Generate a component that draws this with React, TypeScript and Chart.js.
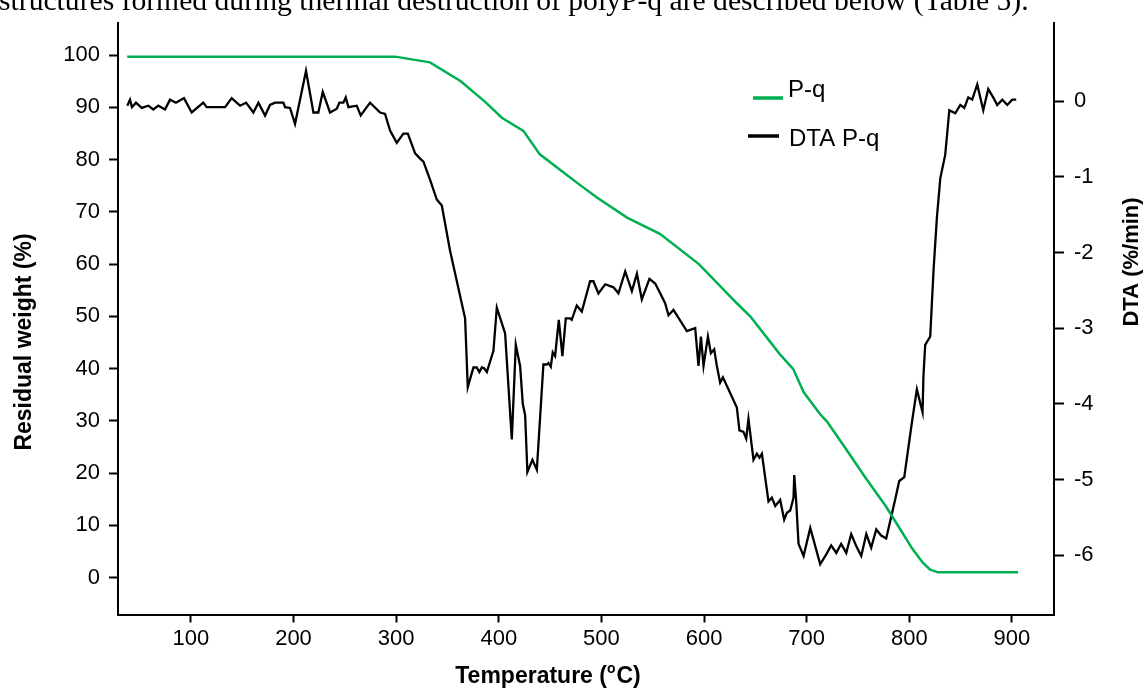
import React, { useEffect, useRef } from 'react';
import { Chart, registerables } from 'chart.js';

Chart.register(...registerables);

// ---------------- data ----------------
const seriesNames = ['P-q', 'DTA P-q'];

const tgaTemp = [38, 299, 333, 363, 387, 403, 424, 440, 460, 478, 496, 525, 557, 595, 632, 645, 655, 674, 687, 697, 713, 720, 738, 757, 777, 791, 803, 813, 820, 828, 906];
const tgaWeight = [99.7, 99.7, 98.6, 95, 91, 88, 85.5, 81, 78, 75.3, 72.7, 68.9, 65.8, 60.0, 52.5, 50.0, 47.5, 42.7, 39.9, 35.5, 31.3, 29.8, 24.7, 19.2, 13.7, 9.3, 5.5, 2.9, 1.55, 1.0, 1.0];

const dtaTemp = [
  38.1, 40.7, 42.6, 46.5, 52.1, 58.6, 63.4, 68.3, 74.8, 79.7, 85.5, 93.3, 100.8, 112.1, 115.4, 133.3, 139.8, 147.9, 153.8, 160.9,
  165.8, 172.3, 177.1, 182.0, 190.1, 191.8, 196.6, 201.5, 212.2, 219.4, 224.2, 228.5, 235.6, 242.2, 244.7, 248.6, 250.9, 253.5, 261.6, 265.5,
  274.6, 284.4, 289.2, 294.1, 300.6, 307.1, 311.4, 318.5, 323.4, 326.6, 333.1,
  339.6, 344.5, 352.6, 367.2, 369.8, 375.3, 378.6, 381.1, 383.5, 385.7, 388.4, 394.8, 398.1, 406.2, 412.7, 416.6, 420.8, 423.4, 425.7, 427.9,
  432.8, 437.1, 443.5, 446.8, 448.4, 450.7, 452.6, 454.9, 458.5, 462.0, 465.3, 469.5, 471.1, 476.0, 480.9, 489.0, 492.2, 497.1, 503.7, 511.8,
  516.6, 523.2, 529.7, 534.6, 539.4, 546.8, 552.4, 557.3,
  562.1, 565.4, 570.2, 583.3, 591.4, 594.6, 597.0, 599.5, 603.8, 606.7, 609.9, 612.5, 615.7, 618.4, 632.0, 634.5, 638.4, 641.1, 643.3, 648.2,
  651.5, 654.0, 656.4, 662.8, 666.1, 669.4, 674.2, 678.1, 680.7, 684.0, 687.2, 687.9, 689.8, 692.1, 697.0, 703.5, 713.2,
  719.1, 723.9, 728.9, 733.6, 738.6, 743.4, 748.3, 753.2, 758.1, 762.9, 767.8, 772.6, 777.5, 786.3, 790.2, 795.1, 802.6, 807.4, 812.9, 813.8,
  815.5, 820.4, 823.6, 826.9, 830.2, 835.0, 839.0,
  844.8, 849.7, 853.6, 857.5, 861.3, 866.2, 872.1, 876.9, 881.8, 885.7, 890.6, 895.5, 900.3, 904.2
];
const dtaValue = [
  -0.06, 0.02, -0.08, -0.02, -0.09, -0.06, -0.11, -0.06, -0.11, 0.02, -0.02, 0.04, -0.15, -0.02, -0.08, -0.08, 0.04, -0.06, -0.02, -0.15,
  -0.02, -0.19, -0.05, -0.02, -0.02, -0.08, -0.09, -0.30, 0.40, -0.15, -0.15, 0.12, -0.15, -0.10, -0.02, -0.02, 0.05, -0.08, -0.06, -0.19,
  -0.02, -0.15, -0.17, -0.39, -0.55, -0.43, -0.43, -0.69, -0.76, -0.80, -1.04,
  -1.30, -1.38, -1.98, -2.87, -3.78, -3.52, -3.52, -3.58, -3.52, -3.53, -3.58, -3.30, -2.73, -3.07, -4.47, -3.22, -3.50, -4.00, -4.15, -4.90,
  -4.74, -4.87, -3.48, -3.48, -3.46, -3.51, -3.32, -3.37, -2.89, -3.37, -2.87, -2.87, -2.89, -2.70, -2.78, -2.38, -2.38, -2.54, -2.42, -2.46,
  -2.54, -2.25, -2.51, -2.28, -2.62, -2.35, -2.41, -2.54,
  -2.67, -2.83, -2.76, -3.04, -3.00, -3.50, -3.11, -3.50, -3.11, -3.33, -3.28, -3.50, -3.72, -3.65, -4.05, -4.35, -4.37, -4.46, -4.20, -4.74,
  -4.66, -4.71, -4.66, -5.29, -5.24, -5.35, -5.27, -5.53, -5.44, -5.41, -5.24, -4.94, -5.29, -5.85, -6.01, -5.64, -6.12,
  -5.99, -5.87, -5.97, -5.85, -5.97, -5.72, -5.88, -6.01, -5.72, -5.90, -5.66, -5.74, -5.78, -5.26, -5.02, -4.97, -4.24, -3.81, -4.11, -3.63,
  -3.22, -3.11, -2.24, -1.54, -1.02, -0.71, -0.12,
  -0.16, -0.05, -0.09, 0.05, 0.02, 0.22, -0.12, 0.16, 0.05, -0.05, 0.02, -0.05, 0.02, 0.02
];

const xTicks = [100, 200, 300, 400, 500, 600, 700, 800, 900];
const leftTicks = [0, 10, 20, 30, 40, 50, 60, 70, 80, 90, 100];
const rightTicks = [-6, -5, -4, -3, -2, -1, 0];

const xTitleMain = 'Temperature (';
const xTitleSup = 'o';
const xTitleEnd = 'C)';
const leftTitle = 'Residual weight (%)';
const rightTitle = 'DTA (%/min)';
const headerText = 'structures formed during thermal destruction of polyP-q are described below (Table 5).';

// ---------------- styles ----------------
const FAMILY = "'Liberation Sans', Arial, Helvetica, sans-serif";
const GREEN = '#00B050';
const W = 1147;
const H = 689;
const AREA = { left: 118, right: 1054, top: 18, bottom: 614.5 };

const overlay = {
  id: 'overlayText',
  afterDraw(chart: any) {
    const ctx = chart.ctx as CanvasRenderingContext2D;
    ctx.save();
    ctx.fillStyle = '#000';
    ctx.textAlign = 'left';
    ctx.textBaseline = 'alphabetic';

    // x title with superscript
    const big = `bold 23px ${FAMILY}`;
    const small = `bold 14px ${FAMILY}`;
    ctx.font = big;
    const w1 = ctx.measureText(xTitleMain).width;
    const w3 = ctx.measureText(xTitleEnd).width;
    ctx.font = small;
    const w2 = ctx.measureText(xTitleSup).width + 1;
    let x = 548 - (w1 + w2 + w3) / 2;
    const by = 683;
    ctx.font = big;
    ctx.fillText(xTitleMain, x, by);
    x += w1;
    ctx.font = small;
    ctx.fillText(xTitleSup, x, by - 10);
    x += w2;
    ctx.font = big;
    ctx.fillText(xTitleEnd, x, by);

    // left title
    ctx.save();
    ctx.translate(25, 342);
    ctx.rotate(-Math.PI / 2);
    ctx.textAlign = 'center';
    ctx.textBaseline = 'middle';
    ctx.font = `bold 23px ${FAMILY}`;
    ctx.fillText(leftTitle, 0, 0);
    ctx.restore();

    // right title
    ctx.save();
    ctx.translate(1132, 262);
    ctx.rotate(-Math.PI / 2);
    ctx.textAlign = 'center';
    ctx.textBaseline = 'middle';
    ctx.font = `bold 22px ${FAMILY}`;
    ctx.fillText(rightTitle, 0, 0);
    ctx.restore();

    // legend
    ctx.lineCap = 'butt';
    ctx.strokeStyle = GREEN;
    ctx.lineWidth = 3.5;
    ctx.beginPath();
    ctx.moveTo(753, 98);
    ctx.lineTo(783, 98);
    ctx.stroke();
    ctx.strokeStyle = '#000';
    ctx.beginPath();
    ctx.moveTo(748, 136);
    ctx.lineTo(779, 136);
    ctx.stroke();
    ctx.font = `24px ${FAMILY}`;
    ctx.fillText(seriesNames[0], 788, 97);
    ctx.fillText(seriesNames[1], 789, 146);
    ctx.restore();
  }
};

export default function App() {
  const canvasRef = useRef<HTMLCanvasElement | null>(null);
  const textRef = useRef<HTMLDivElement | null>(null);

  useEffect(() => {
    const t = textRef.current;
    if (t) {
      const w = t.scrollWidth || 1;
      const size = 27 * 1030 / w;
      t.style.fontSize = size + 'px';
      t.style.lineHeight = size + 'px';
      t.style.top = (11 - 0.8375 * size) + 'px';
    }
    const canvas = canvasRef.current;
    if (!canvas) return;
    const tickFont = { family: FAMILY, size: 22 };
    const chart = new Chart(canvas, {
      type: 'line',
      data: {
        datasets: [
          {
            label: seriesNames[0],
            data: tgaTemp.map((t, i) => ({ x: t, y: tgaWeight[i] })),
            borderColor: GREEN,
            backgroundColor: GREEN,
            borderWidth: 2.5,
            pointRadius: 0,
            tension: 0,
            yAxisID: 'y',
          },
          {
            label: seriesNames[1],
            data: dtaTemp.map((t, i) => ({ x: t, y: dtaValue[i] })),
            borderColor: '#000',
            backgroundColor: '#000',
            borderWidth: 2.3,
            pointRadius: 0,
            tension: 0,
            yAxisID: 'y2',
          },
        ],
      },
      options: {
        animation: false,
        responsive: false,
        maintainAspectRatio: false,
        devicePixelRatio: 1,
        layout: { padding: { top: AREA.top, left: 0, right: 0, bottom: 0 } },
        plugins: {
          legend: { display: false },
          tooltip: { enabled: false },
          title: { display: false },
        },
        scales: {
          x: {
            type: 'linear',
            min: 29,
            max: 941,
            afterFit: (s: any) => { s.height = H - AREA.bottom; },
            afterBuildTicks: (s: any) => { s.ticks = xTicks.map((v) => ({ value: v })); },
            grid: { drawOnChartArea: false, drawTicks: true, tickLength: 8, tickWidth: 2, tickColor: '#000' },
            border: { display: true, color: '#000', width: 2 },
            ticks: { color: '#000', font: tickFont, padding: 3, maxRotation: 0, autoSkip: false },
          },
          y: {
            type: 'linear',
            position: 'left',
            min: -7.07,
            max: 106.1,
            afterFit: (s: any) => { s.width = AREA.left; },
            afterBuildTicks: (s: any) => { s.ticks = leftTicks.map((v) => ({ value: v })); },
            grid: { drawOnChartArea: false, drawTicks: true, tickLength: 9, tickWidth: 2, tickColor: '#000' },
            border: { display: true, color: '#000', width: 2 },
            ticks: { color: '#000', font: tickFont, padding: 9, autoSkip: false },
          },
          y2: {
            type: 'linear',
            position: 'right',
            min: -6.784,
            max: 1.03,
            afterFit: (s: any) => { s.width = W - AREA.right; },
            afterBuildTicks: (s: any) => { s.ticks = rightTicks.map((v) => ({ value: v })); },
            grid: { drawOnChartArea: false, drawTicks: true, tickLength: 10, tickWidth: 2, tickColor: '#000' },
            border: { display: true, color: '#000', width: 2 },
            ticks: { color: '#000', font: tickFont, padding: 10, autoSkip: false },
          },
        },
      },
      plugins: [overlay],
    } as any);
    return () => chart.destroy();
  }, []);

  return (
    <div style={{ position: 'absolute', left: 0, top: 0, width: W, height: H, overflow: 'hidden', background: '#fff' }}>
      <canvas ref={canvasRef} width={W} height={H} style={{ position: 'absolute', left: 0, top: 0, display: 'block' }} />
      <div
        ref={textRef}
        style={{
          position: 'absolute',
          left: -1,
          top: -12,
          whiteSpace: 'nowrap',
          fontFamily: "'Liberation Serif', 'Times New Roman', serif",
          fontSize: 27,
          lineHeight: '27px',
          color: '#000',
        }}
      >
        {headerText}
      </div>
    </div>
  );
}
